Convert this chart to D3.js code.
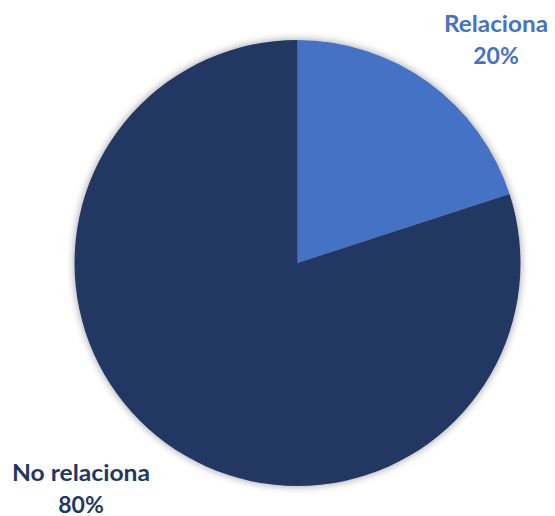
<!DOCTYPE html>
<html>
<head>
<meta charset="utf-8">
<script src="https://cdn.jsdelivr.net/npm/d3@7"></script>
<style>
  html, body { margin: 0; padding: 0; background: #fff; }
  svg { display: block; }
</style>
</head>
<body>
<svg id="chart" width="555" height="516"></svg>
<script>
// Share of answers
const categories = ["Relaciona", "No relaciona"];
const values = [20, 80];
const colors = ["#4472C4", "#203864"];

const svg = d3.select("#chart");
const cx = 297.5, cy = 263, radius = 223;

// soft shadow around the pie
const defs = svg.append("defs");
const f = defs.append("filter").attr("id", "shadow")
  .attr("x", "-20%").attr("y", "-20%").attr("width", "140%").attr("height", "140%");
f.append("feGaussianBlur").attr("in", "SourceAlpha").attr("stdDeviation", 4).attr("result", "b");
f.append("feOffset").attr("in", "b").attr("dx", 0).attr("dy", 0).attr("result", "o");
f.append("feComponentTransfer").attr("in", "o").attr("result", "s")
  .append("feFuncA").attr("type", "linear").attr("slope", 0.4);
const m = f.append("feMerge");
m.append("feMergeNode").attr("in", "s");
m.append("feMergeNode").attr("in", "SourceGraphic");

const pie = d3.pie().sort(null).value(d => d);
const arcs = pie(values);
const arc = d3.arc().innerRadius(0).outerRadius(radius);

const g = svg.append("g").attr("transform", `translate(${cx},${cy})`)
  .attr("filter", "url(#shadow)");
g.selectAll("path").data(arcs).enter().append("path")
  .attr("d", arc)
  .attr("fill", (d, i) => colors[i]);

// labels: category name above percentage
const total = d3.sum(values);
const labelPos = [
  { x: 496, y: 32, w1: 104 },
  { x: 81, y: 481, w1: 138 }
];
const fmt = d3.format(".0%");
arcs.forEach((a, i) => {
  const t = svg.append("text")
    .attr("text-anchor", "middle")
    .attr("font-family", "Lato, 'Open Sans', sans-serif")
    .attr("font-weight", "bold")
    .attr("font-size", 23)
    .attr("fill", colors[i]);
  t.append("tspan").attr("x", labelPos[i].x).attr("y", labelPos[i].y)
    .attr("textLength", labelPos[i].w1).attr("lengthAdjust", "spacingAndGlyphs")
    .text(categories[i]);
  t.append("tspan").attr("x", labelPos[i].x).attr("y", labelPos[i].y + 32)
    .text(fmt(values[i] / total));
});
</script>
</body>
</html>
